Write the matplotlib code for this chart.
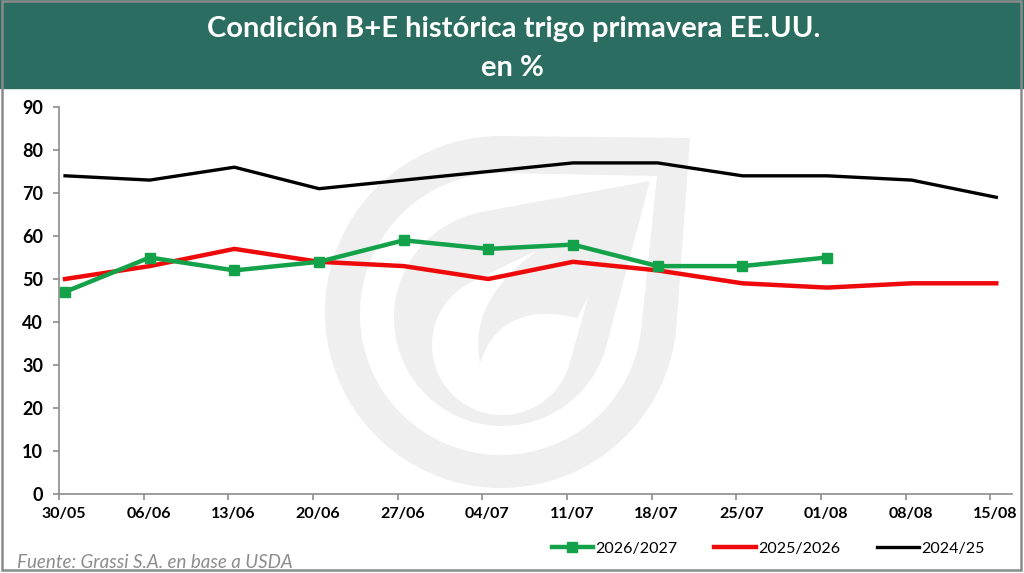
import matplotlib
matplotlib.use("Agg")
import matplotlib.pyplot as plt
import matplotlib.transforms as mtransforms
import numpy as np

plt.rcParams['font.family'] = ['Lato', 'DejaVu Sans']

# semanas (dias desde 30/05)
tick_labels = ['30/05', '06/06', '13/06', '20/06', '27/06', '04/07',
               '11/07', '18/07', '25/07', '01/08', '08/08', '15/08']
s2026 = [47, 55, 52, 54, 59, 57, 58, 53, 53, 55]
s2025 = [50, 53, 57, 54, 53, 50, 54, 52, 49, 48, 49, 49]
s2024 = [74, 73, 76, 71, 73, 75, 77, 77, 74, 74, 73, 69]

W, H = 1024, 573
fig = plt.figure(figsize=(W / 100, H / 100), dpi=100)

# fondo: banner, marco, marca de agua
bg = fig.add_axes([0, 0, 1, 1], zorder=0)
bg.set_xlim(0, W)
bg.set_ylim(H, 0)
bg.axis('off')
bg.add_patch(plt.Rectangle((0, 0), W, 88, color='#2b6e61', zorder=1))
bg.add_patch(plt.Rectangle((2, 1), W - 5, H - 4, fill=False, ec='#8a8a8a', lw=1.8, zorder=2))
bg.text(W / 2 + 2, 29, 'Condición B+E histórica trigo primavera EE.UU.', color='white',
        fontsize=21, fontweight='bold', ha='center', va='center')
bg.text(W / 2, 68, 'en %', color='white', fontsize=21, fontweight='bold',
        ha='center', va='center')
bg.text(17, 563, 'Fuente: Grassi S.A. en base a USDA', color='#8c8c8c',
        fontsize=13.5, style='italic', ha='left', va='center')

wm = '#efefef'


def drop(cx, cy, r, tx, ty):
    # contorno de una gota: circulo + dos tangentes hasta la punta
    dx, dy = tx - cx, ty - cy
    d = np.hypot(dx, dy)
    base = np.arctan2(dy, dx)
    a = np.arccos(r / d)
    ang = np.linspace(base + a, base - a + 2 * np.pi, 150)
    xs = np.concatenate([[tx], cx + r * np.cos(ang)])
    ys = np.concatenate([[ty], cy + r * np.sin(ang)])
    return xs, ys


def quad(p0, c, p2, n=40):
    t = np.linspace(0, 1, n)[:, None]
    return (1 - t) ** 2 * np.array(p0) + 2 * t * (1 - t) * np.array(c) + t ** 2 * np.array(p2)


bg.fill(*drop(501, 312, 176, 690, 138), color=wm, lw=0, zorder=1)
bg.fill(*drop(501, 314, 141, 657, 176), color='white', lw=0, zorder=1)
bg.fill(*drop(502, 318, 108, 650, 181), color=wm, lw=0, zorder=1)
bg.fill(*drop(502, 345, 70, 612, 214), color='white', lw=0, zorder=1)
leaf = np.vstack([quad((480, 363), (501, 300), (577, 318)),
                  [[592, 290], [615, 208]],
                  quad((615, 208), (462, 274), (480, 363))])
bg.fill(leaf[:, 0], leaf[:, 1], color=wm, lw=0, zorder=1)

# grafico
ax = fig.add_axes([59 / W, 1 - 494 / H, (1012 - 59) / W, (494 - 107) / H], zorder=1)
ax.set_facecolor('none')

x_ticks = np.arange(len(tick_labels)) * 7
x2026 = np.arange(len(s2026)) * 7 + 0.5
x2025 = np.arange(len(s2025)) * 7 + 0.5
x2024 = np.arange(len(s2024)) * 7 + 0.5

ax.plot(x2026, s2026, color='#13a24a', lw=3.2, marker='s', markersize=6.5,
        label='2026/2027', zorder=5)
ax.plot(x2025, s2025, color='#ee0a0a', lw=3.2, label='2025/2026', zorder=4)
ax.plot(x2024, s2024, color='black', lw=2.4, label='2024/25', zorder=3)

ax.set_xlim(0, 78.8)
ax.set_ylim(0, 90)
ax.set_yticks(range(0, 91, 10))
ax.set_xticks(x_ticks)
ax.set_xticklabels(tick_labels)

for s in ['top', 'right']:
    ax.spines[s].set_visible(False)
for s in ['left', 'bottom']:
    ax.spines[s].set_color('#8c8c8c')
    ax.spines[s].set_linewidth(1.2)
ax.tick_params(axis='both', direction='out', length=4.5, color='#8c8c8c', width=1.2)
ax.tick_params(axis='y', pad=7, labelsize=13)
ax.tick_params(axis='x', pad=5, labelsize=11.5)
for lab in ax.get_xticklabels() + ax.get_yticklabels():
    lab.set_fontweight('bold')
off = mtransforms.ScaledTranslation(5 / 100, 0, fig.dpi_scale_trans)
for lab in ax.get_xticklabels():
    lab.set_transform(lab.get_transform() + off)

ax.legend(loc='center', bbox_to_anchor=(768 / W, 1 - 549 / H), bbox_transform=fig.transFigure,
          ncol=3, frameon=False, fontsize=11.5, handlelength=2.6, handletextpad=0.15,
          columnspacing=2.3)

fig.savefig('out.png', dpi=100)
